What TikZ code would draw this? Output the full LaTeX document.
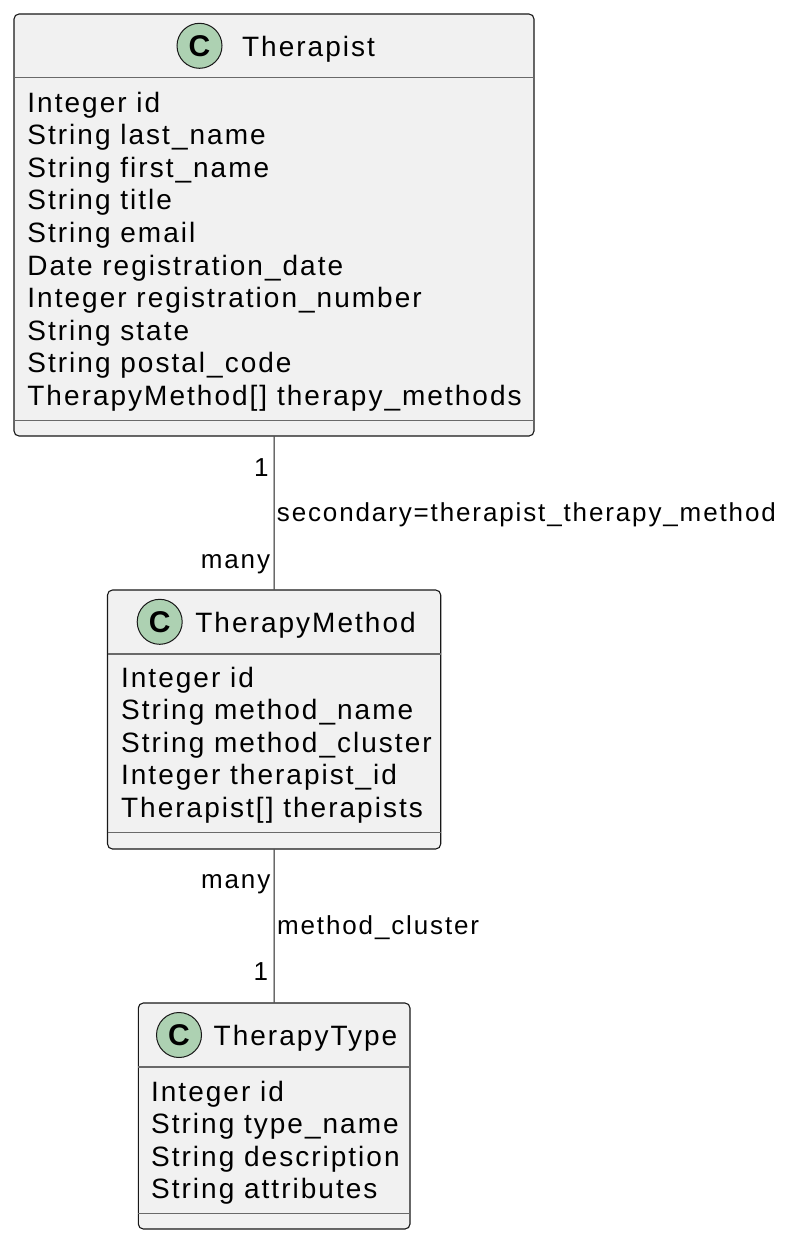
\documentclass[tikz,border=0pt]{standalone}
\usepackage{fontspec}
\setmainfont{Liberation Sans}[LetterSpace=7.2]
\usetikzlibrary{positioning,fit}
\definecolor{umlfill}{HTML}{F1F1F1}
\definecolor{umlline}{HTML}{181818}
\definecolor{classicon}{HTML}{ADD1B2}
\tikzset{
  classbox/.style={draw=umlline,fill=umlfill,rounded corners=2.5pt,line width=0.55pt,inner sep=0pt},
  sepline/.style={draw=umlline!65,line width=0.6pt},
  classicon/.style={circle,draw=umlline,fill=classicon,line width=0.5pt,minimum size=22.5pt,inner sep=0pt,
    font=\fontsize{15}{15}\selectfont\bfseries},
  classname/.style={anchor=base west,inner sep=0pt,font=\fontsize{14}{16}\selectfont},
  attr/.style={anchor=base west,inner sep=0pt,font=\fontsize{14}{16}\selectfont},
  mult/.style={anchor=base east,inner sep=0pt,font=\fontsize{13}{15}\selectfont},
  linklabel/.style={anchor=base west,inner sep=0pt,font=\fontsize{13}{15}\selectfont},
  assoc/.style={draw=umlline,line width=0.5pt}
}
\begin{document}
\begin{tikzpicture}[x=0.5pt,y=-0.5pt]
  \useasboundingbox (0,0) rectangle (792,1242);

  % Therapist
  \node [classbox,fit={(14,14) (534,436)}] (therapist) {};
  \draw [sepline] (14,77.7) -- (534,77.7);
  \draw [sepline] (14,420.5) -- (534,420.5);
  \node [classicon] (ticon) at (199.5,45.8) {C};
  \node [classname] (tname) at (241.7,56) {Therapist};
  \foreach \line [count=\i from 0] in {Integer id,String last\_name,String first\_name,String title,String email,
      Date registration\_date,Integer registration\_number,String state,String postal\_code,
      TherapyMethod[] therapy\_methods}
    \node [attr] (tattr\i) at (27,112+32.6*\i) {\line};

  % TherapyMethod
  \node [classbox,fit={(107.5,590) (440.7,849)}] (method) {};
  \draw [sepline] (107.5,654) -- (440.7,654);
  \draw [sepline] (107.5,832.7) -- (440.7,832.7);
  \node [classicon] (micon) at (159.7,621.8) {C};
  \node [classname] (mname) at (195,632) {TherapyMethod};
  \foreach \line [count=\i from 0] in {Integer id,String method\_name,String method\_cluster,
      Integer therapist\_id,Therapist[] therapists}
    \node [attr] (mattr\i) at (120.7,687+32.6*\i) {\line};

  % TherapyType
  \node [classbox,fit={(138.3,1003) (410,1229)}] (type) {};
  \draw [sepline] (138.3,1067) -- (410,1067);
  \draw [sepline] (138.3,1213.5) -- (410,1213.5);
  \node [classicon] (yicon) at (179,1035) {C};
  \node [classname] (yname) at (213.3,1045) {TherapyType};
  \foreach \line [count=\i from 0] in {Integer id,String type\_name,String description,String attributes}
    \node [attr] (yattr\i) at (150.7,1101+32.6*\i) {\line};

  % associations
  \draw [assoc] (therapist.south) -- (method.north);
  \node [mult] (m1) at (269,476) {1};
  \node [linklabel] (l1) at (276.5,521.7) {secondary=therapist\_therapy\_method};
  \node [mult] (m2) at (270.5,568.3) {many};

  \draw [assoc] (method.south) -- (type.north);
  \node [mult] (m3) at (270.7,888.3) {many};
  \node [linklabel] (l2) at (276.7,934.3) {method\_cluster};
  \node [mult] (m4) at (268.5,980) {1};
\end{tikzpicture}
\end{document}
